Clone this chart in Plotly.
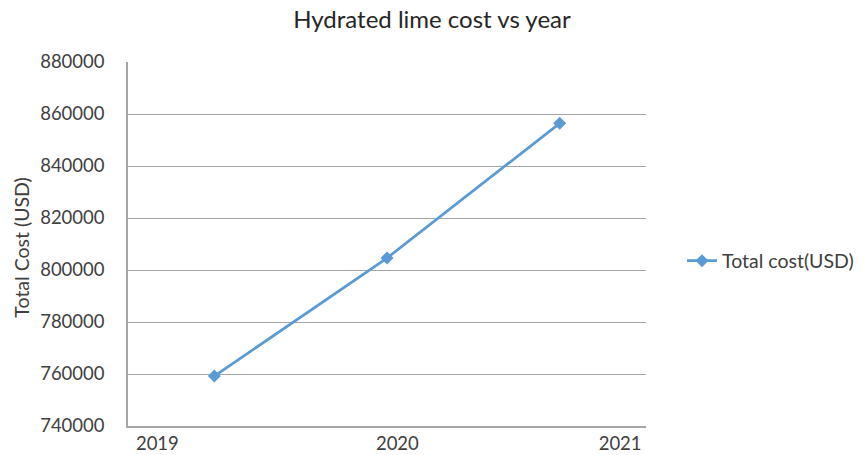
import plotly.graph_objects as go

# Data
years = ["2019", "2020", "2021"]
total_cost = [759200, 804600, 856400]
series_name = "Total cost(USD)"
y_ticks = [740000, 760000, 780000, 800000, 820000, 840000, 860000, 880000]

# points sit at category slots 0,1,2; labels appear offset in the original
x_pos = list(range(len(total_cost)))
label_pos = [-0.33, 1.06, 2.35]

FONT = "Lato"
TXT = "#404040"
BLUE = "#5B9BD5"
GRID = "#A6A6A6"

fig = go.Figure()
fig.add_trace(go.Scatter(
    x=x_pos, y=total_cost, mode="lines+markers", name=series_name,
    line=dict(color=BLUE, width=2.75),
    marker=dict(symbol="diamond", size=10, color=BLUE),
))

fig.update_layout(
    width=864, height=455,
    paper_bgcolor="white", plot_bgcolor="white",
    margin=dict(l=128, r=218, t=62, b=29),
    font=dict(family=FONT, color=TXT, size=18),
    title=dict(text="Hydrated lime cost vs year", x=0.5, xref="container",
               xanchor="center", y=1 - 20 / 455, yref="container", yanchor="middle",
               font=dict(family=FONT, size=24, color="#262626")),
    showlegend=True,
    legend=dict(xref="container", x=682 / 864, xanchor="left",
                yref="container", y=1 - 261 / 455, yanchor="middle",
                font=dict(family=FONT, size=19.5, color=TXT),
                bgcolor="rgba(0,0,0,0)", borderwidth=0),
    xaxis=dict(range=[-0.5, 2.5], tickmode="array", tickvals=label_pos, ticktext=years,
               showgrid=False, zeroline=False, showline=True, linecolor=GRID, linewidth=1.5,
               ticks="", tickfont=dict(family=FONT, size=18.5, color=TXT),
               ticklabelstandoff=0, automargin=False, fixedrange=True),
    yaxis=dict(range=[740000, 880000], tickmode="array", tickvals=y_ticks,
               ticktext=[str(v) for v in y_ticks],
               showgrid=True, gridcolor=GRID, gridwidth=1.2, zeroline=False,
               showline=True, linecolor=GRID, linewidth=1.5, ticks="",
               tickfont=dict(family=FONT, size=18.5, color=TXT),
               ticklabelstandoff=18, automargin=False, fixedrange=True),
    annotations=[dict(text="Total Cost (USD)", textangle=-90, xref="paper", yref="paper",
                      x=(22 - 128) / 518, y=0.49, xanchor="center", yanchor="middle",
                      showarrow=False, font=dict(family=FONT, size=19.5, color=TXT))],
)

fig.write_html("out.html")
